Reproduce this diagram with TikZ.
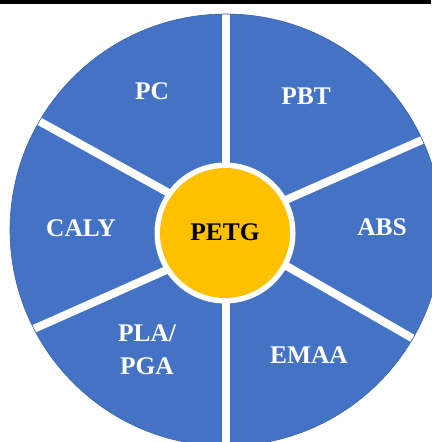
\documentclass[tikz,border=0pt]{standalone}
\usepackage{fontspec}
\setmainfont{Liberation Serif}
\usetikzlibrary{calc}
\definecolor{segblue}{HTML}{4472C4}
\definecolor{segedge}{HTML}{3A62AA}
\definecolor{hubgold}{HTML}{FFC000}
\begin{document}
\begin{tikzpicture}[x=1bp,y=-1bp,
  label/.style={font=\fontsize{25.5}{30}\selectfont\bfseries, text=white, align=center, inner sep=0pt},
  divider/.style={draw=white, line width=8bp}]
\useasboundingbox (0,0) rectangle (431,442);
% rule across the top
\draw[line width=3.2bp] (0,2.1) -- (431,2.1);
% outer disc
\coordinate (O) at (226,230);
\fill[segblue] (O) circle[radius=216];
\begin{scope}
  \clip (O) circle[radius=216];
  % white dividers between the six segments
  \draw[divider] (226,0) -- (226,442);
  \draw[divider] ($(167,192)!-0.5!(37,120)$) -- ($(167,192)!1.3!(37,120)$);
  \draw[divider] ($(297,195)!-0.5!(422,140)$) -- ($(297,195)!1.3!(422,140)$);
  \draw[divider] ($(162,272)!-0.5!(38,327)$) -- ($(162,272)!1.3!(38,327)$);
  \draw[divider] ($(290,268)!-0.5!(412,338)$) -- ($(290,268)!1.3!(412,338)$);
\end{scope}
\draw[segedge, line width=0.6bp] (O) circle[radius=216];
% central hub
\fill[white] (225,233) circle[radius=70.5];
\fill[hubgold] (225,233) circle[radius=65];
\node[label, text=black] (petg) at (225,232) {PETG};
% segment labels
\node[label] (pc)   at (152,91)  {PC};
\node[label] (pbt)  at (306,96)  {PBT};
\node[label] (abs)  at (382,227) {ABS};
\node[label] (caly) at (81,228)  {CALY};
\node[label] (emaa) at (309,355) {EMAA};
\node[label, font=\fontsize{25.5}{33}\selectfont\bfseries] (pla) at (147,350) {PLA/\\PGA};
\end{tikzpicture}
\end{document}
